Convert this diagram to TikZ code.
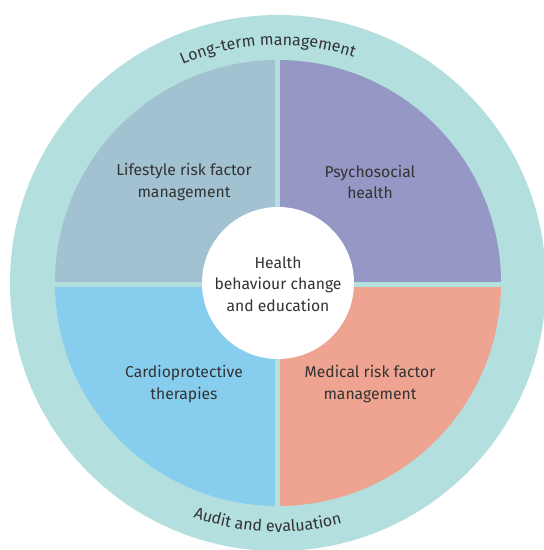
\documentclass[tikz,border=0pt]{standalone}
\usepackage{fontspec}
\setmainfont{Fira Sans}
\usepackage{tikz}
\usetikzlibrary{decorations.text}

\definecolor{ringteal}{HTML}{B3DFDF}
\definecolor{lifeblue}{HTML}{A2C1D1}
\definecolor{psypurple}{HTML}{9597C5}
\definecolor{cardioblue}{HTML}{87CEEE}
\definecolor{medsalmon}{HTML}{EEA490}
\definecolor{txtgray}{HTML}{333333}

\newcommand{\ringfont}{\fontsize{16}{18}\selectfont\color{txtgray}}

\tikzset{
	label text/.style={text=txtgray, align=center, font=\fontsize{15.7}{21.5}\selectfont},
}

\begin{document}
\begin{tikzpicture}[x=1pt,y=1pt]
					\useasboundingbox (-278,-267) rectangle (266,283);
					% Outer ring
					\fill[ringteal] (0,0) circle (268);
					% Quadrants
					\fill[lifeblue] (0,0) -- (180:223) arc (180:90:223) -- cycle;
					\fill[psypurple] (0,0) -- (90:223) arc (90:0:223) -- cycle;
					\fill[medsalmon] (0,0) -- (0:223) arc (0:-90:223) -- cycle;
					\fill[cardioblue] (0,0) -- (-90:223) arc (-90:-180:223) -- cycle;
					% Gaps between quadrants
					\draw[ringteal, line width=5pt] (-224,-1) -- (224,-1);
					\draw[ringteal, line width=5pt] (0,-224) -- (0,224);
					% Centre
					\fill[white] (0,0) circle (76);
					\node[label text] (centre) at (0,-1) {Health\\behaviour change\\and education};
					% Quadrant labels
					\node[label text] (lifestyle) at (-94,101) {Lifestyle risk factor\\management};
					\node[label text] (psycho) at (92,101) {Psychosocial\\health};
					\node[label text] (cardio) at (-94,-101) {Cardioprotective\\therapies};
					\node[label text] (medical) at (92,-101) {Medical risk factor\\management};
					% Ring labels
					\path[decorate, decoration={text along path, text align=center,
						text={|\ringfont|Long-term management}}] (125:238) arc (125:60:238);
					\path[decorate, decoration={text along path, text align=center,
						text={|\ringfont|Audit and evaluation}}] (-125:249) arc (-125:-60:249);
				\end{tikzpicture}
\end{document}
